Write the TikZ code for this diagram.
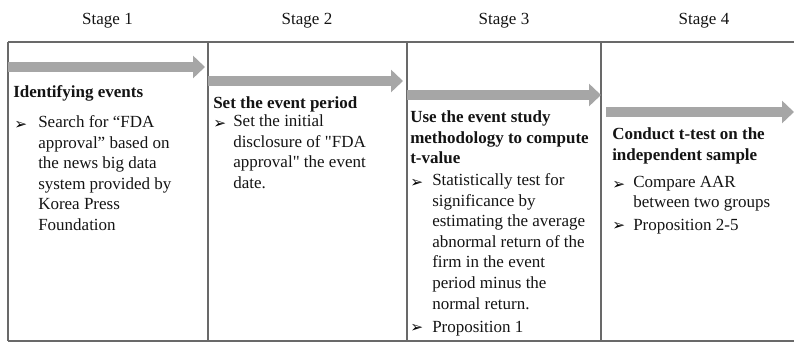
\documentclass[tikz,border=0pt]{standalone}
\usepackage{fontspec}
\setmainfont{Liberation Serif}
\newfontfamily\bulfamily{DejaVu Sans}
\usepackage{xcolor}
\definecolor{RuleGray}{RGB}{105,105,105}
\definecolor{ArrowGray}{RGB}{166,166,166}
\definecolor{TextBlack}{RGB}{20,20,20}
\usepackage{tikz}
\usetikzlibrary{arrows.meta,positioning}
\newcommand\stagefont{\fontsize{12.75pt}{15.4pt}\selectfont}
\newcommand\sq{\XeTeXglyph\numexpr\XeTeXcharglyph"22\relax}

\begin{document}
\begin{tikzpicture}[
  x=0.75pt,y=-0.75pt,
  rule/.style={draw=RuleGray,line width=0.9pt},
  stagearrow/.style={-{Triangle[length=9pt,width=16.5pt]},line width=6.8pt,ArrowGray},
  stagehead/.style={font=\stagefont,text=TextBlack,inner sep=0,anchor=base},
  head/.style={font=\stagefont\bfseries,text=TextBlack,inner sep=0,anchor=base west},
  headblock/.style={font=\stagefont\bfseries,text=TextBlack,inner sep=0,anchor=north west,
              align=left,execute at begin node=\strut},
  itemtext/.style={font=\stagefont,text=TextBlack,inner sep=0,anchor=north west,
              align=left,execute at begin node=\strut},
  itemline/.style={font=\stagefont,text=TextBlack,inner sep=0,anchor=base west},
  bul/.style={font=\bulfamily\fontsize{11.5pt}{12pt}\selectfont,text=black,inner sep=0,anchor=base west}
]
  \useasboundingbox (0,0) rectangle (794,342);

  % table frame
  \draw[rule] (8,42) -- (794,42);
  \draw[rule] (8,341) -- (794,341);
  \foreach \cx in {8,208,407,601}
    \draw[rule] (\cx,42) -- (\cx,341);

  % stage titles
  \node[stagehead] (st1) at (107.5,25) {Stage 1};
  \node[stagehead] (st2) at (307,25)   {Stage 2};
  \node[stagehead] (st3) at (504,25)   {Stage 3};
  \node[stagehead] (st4) at (704,25)   {Stage 4};

  % stage arrows
  \coordinate (a1s) at (8,67);    \coordinate (a1e) at (205,67);
  \coordinate (a2s) at (208,81);  \coordinate (a2e) at (403,81);
  \coordinate (a3s) at (407,95);  \coordinate (a3e) at (601,95);
  \coordinate (a4s) at (606,112); \coordinate (a4e) at (794,112);
  \draw[stagearrow] (a1s) -- (a1e);
  \draw[stagearrow] (a2s) -- (a2e);
  \draw[stagearrow] (a3s) -- (a3e);
  \draw[stagearrow] (a4s) -- (a4e);

  % stage 1
  \node[head] (h1) at (13,98) {Identifying events};
  \node[bul] (b1) at (14,130) {➢};
  \node[itemtext] (i1) at (38,115.6) {Search for “FDA\\approval” based on\\the news big data\\system provided by\\Korea Press\\Foundation};

  % stage 2
  \node[head] (h2) at (213,109) {Set the event period};
  \node[bul] (b2) at (213,129) {➢};
  \node[itemtext] (i2) at (233,114.6) {Set the initial\\disclosure of \sq FDA\\approval\sq{} the event\\date.};

  % stage 3
  \node[headblock] (h3) at (410,110.6) {Use the event study\\methodology to compute\\t-value};
  \node[bul] (b3a) at (410,188) {➢};
  \node[itemtext] (i3a) at (432,173.6) {Statistically test for\\significance by\\estimating the average\\abnormal return of the\\firm in the event\\period minus the\\normal return.};
  \node[bul] (b3b) at (410,333) {➢};
  \node[itemline] (i3b) at (432,333) {Proposition 1};

  % stage 4
  \node[headblock] (h4) at (612,127.6) {Conduct t-test on the\\independent sample};
  \node[bul] (b4a) at (612,190) {➢};
  \node[itemtext] (i4a) at (633,175.6) {Compare AAR\\between two groups};
  \node[bul] (b4b) at (612,231) {➢};
  \node[itemline] (i4b) at (633,231) {Proposition 2-5};
\end{tikzpicture}
\end{document}
